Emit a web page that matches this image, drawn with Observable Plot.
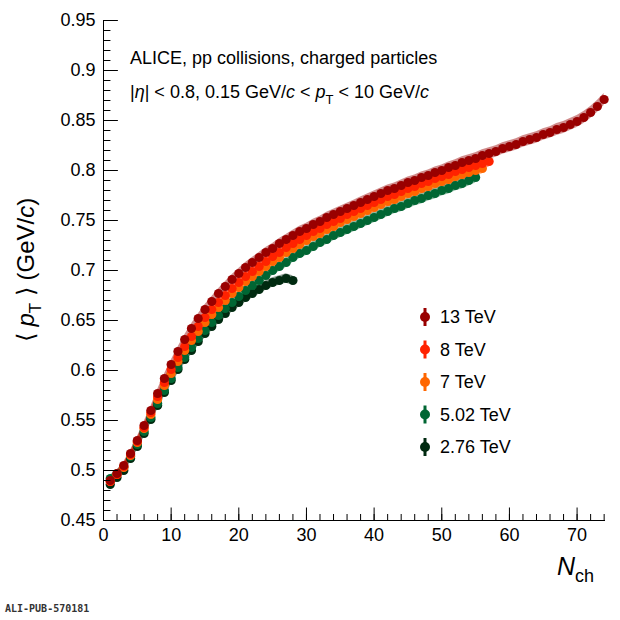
<!DOCTYPE html>
<html><head><meta charset="utf-8">
<script src="https://cdn.jsdelivr.net/npm/d3@7"></script>
<script src="https://cdn.jsdelivr.net/npm/@observablehq/plot@0.6"></script>
<style>body{margin:0;background:#fff;font-family:"Liberation Sans",Arial,sans-serif}</style>
</head><body><div id="c"></div>
<script>
const energies = ["13 TeV","8 TeV","7 TeV","5.02 TeV","2.76 TeV"];
const colors = ["#990000","#ff2200","#ff6600","#006633","#002a10"];
const v13 = [0.490,0.497,0.505,0.517,0.530,0.545,0.560,0.577,0.592,0.606,0.619,0.631,0.642,0.652,0.661,0.669,0.677,0.684,0.691,0.697,0.703,0.708,0.713,0.718,0.722,0.727,0.731,0.735,0.739,0.742,0.746,0.749,0.753,0.756,0.759,0.762,0.765,0.768,0.771,0.774,0.777,0.780,0.782,0.785,0.788,0.790,0.793,0.795,0.798,0.800,0.803,0.805,0.808,0.810,0.812,0.815,0.817,0.819,0.822,0.824,0.826,0.829,0.831,0.833,0.836,0.838,0.841,0.843,0.846,0.849,0.853,0.858,0.864,0.871];
const v8 = [0.489,0.496,0.504,0.516,0.529,0.543,0.558,0.574,0.588,0.601,0.613,0.624,0.634,0.644,0.653,0.661,0.668,0.675,0.682,0.688,0.694,0.699,0.704,0.709,0.714,0.718,0.723,0.727,0.731,0.735,0.739,0.742,0.746,0.749,0.752,0.756,0.759,0.762,0.765,0.768,0.771,0.774,0.776,0.779,0.782,0.784,0.787,0.789,0.792,0.794,0.796,0.799,0.801,0.803,0.805,0.807,0.809];
const v7 = [0.489,0.496,0.503,0.515,0.528,0.542,0.556,0.571,0.585,0.597,0.609,0.620,0.630,0.639,0.648,0.656,0.663,0.670,0.677,0.683,0.689,0.694,0.699,0.704,0.709,0.713,0.718,0.722,0.726,0.730,0.734,0.737,0.741,0.744,0.748,0.751,0.754,0.757,0.760,0.763,0.766,0.769,0.771,0.774,0.777,0.779,0.782,0.784,0.787,0.789,0.791,0.794,0.796,0.798,0.800,0.802];
const v502 = [0.492,0.497,0.503,0.514,0.526,0.539,0.553,0.567,0.580,0.592,0.603,0.613,0.623,0.632,0.640,0.648,0.655,0.662,0.668,0.674,0.680,0.685,0.690,0.695,0.700,0.704,0.708,0.713,0.717,0.720,0.724,0.728,0.731,0.735,0.738,0.741,0.744,0.747,0.750,0.753,0.756,0.759,0.762,0.764,0.767,0.770,0.772,0.775,0.777,0.780,0.782,0.785,0.787,0.790,0.793];
const v276 = [0.486,0.493,0.500,0.512,0.524,0.537,0.551,0.565,0.578,0.590,0.601,0.611,0.620,0.629,0.637,0.644,0.651,0.657,0.663,0.668,0.673,0.677,0.681,0.685,0.688,0.690,0.692,0.690];
const series = [v13,v8,v7,v502,v276];
const relSyst = 0.007;
const xTicks = [0,10,20,30,40,50,60,70];
const yTicks = [0.45,0.5,0.55,0.6,0.65,0.7,0.75,0.8,0.85,0.9,0.95];

const data = [];
series.forEach((arr,i)=>arr.forEach((v,j)=>data.push({e:energies[i],n:j+1,v,lo:v*(1-relSyst),hi:v*(1+relSyst)})));
const order = [...energies].reverse();
const drawData = order.flatMap(e=>data.filter(d=>d.e===e));

const color = {domain:energies, range:colors};
const plot = Plot.plot({
  width:620, height:620, marginLeft:103, marginRight:15, marginTop:20, marginBottom:100,
  style:{fontFamily:"Liberation Sans, Arial, sans-serif", fontSize:"18px", background:"#fff"},
  x:{domain:[0,74.2], label:null},
  y:{domain:[0.45,0.95], label:null},
  color,
  marks:[
    ...order.map(e=>Plot.areaY(data.filter(d=>d.e===e),{x:"n",y1:"lo",y2:"hi",fill:colors[energies.indexOf(e)],fillOpacity:0.45})),
    Plot.dot(drawData,{x:"n",y:"v",fill:"e",r:4.6}),
    Plot.axisX({ticks:xTicks, tickSize:0, tickPadding:8, fontSize:18}),
    Plot.ruleX(xTicks,{x:d=>d,y1:0.45,y2:0.4625,stroke:"#000"}),
    Plot.ruleX(d3.range(0,75,2),{x:d=>d,y1:0.45,y2:0.456,stroke:"#000"}),
    Plot.axisY({ticks:yTicks, tickSize:0, tickPadding:8, fontSize:18, tickFormat:d=>String(+d.toFixed(2))}),
    Plot.ruleY(yTicks,{y:d=>d,x1:0,x2:2.2,stroke:"#000"}),
    Plot.ruleY(d3.range(0.45,0.951,0.01),{y:d=>d,x1:0,x2:1.1,stroke:"#000"}),
    Plot.ruleX([0],{stroke:"#000"}),
    Plot.ruleY([0.45],{stroke:"#000"}),
  ]
});
const svg = d3.select(plot);
const T = ()=>svg.append("text").attr("text-anchor","start").attr("fill","#000");
T().attr("x",130).attr("y",64).attr("font-size",18).text("ALICE, pp collisions, charged particles");
T().attr("x",130).attr("y",98).attr("font-size",18).html('|<tspan font-style="italic">η</tspan>| &lt; 0.8, 0.15 GeV/<tspan font-style="italic">c</tspan> &lt; <tspan font-style="italic">p</tspan><tspan font-size="13" dy="6">T</tspan><tspan dy="-6"> &lt; 10 GeV/</tspan><tspan font-style="italic">c</tspan>');
energies.forEach((e,i)=>{
  const y = 317 + i*32.5;
  svg.append("line").attr("x1",425).attr("x2",425).attr("y1",y-9).attr("y2",y+9).attr("stroke",colors[i]).attr("stroke-width",3);
  svg.append("circle").attr("cx",425).attr("cy",y).attr("r",5).attr("fill",colors[i]);
  T().attr("x",440).attr("y",y+6).attr("font-size",18).text(e);
});
svg.append("text").attr("transform","translate(34,270) rotate(-90)").attr("text-anchor","middle").attr("font-size",24)
  .html('⟨ <tspan font-style="italic">p</tspan><tspan font-size="17" dy="7">T</tspan><tspan dy="-7"> ⟩ (GeV/</tspan><tspan font-style="italic">c</tspan>)');
T().attr("x",557).attr("y",575).attr("font-size",25).html('<tspan font-style="italic">N</tspan><tspan font-size="18" dy="7">ch</tspan>');
T().attr("x",5).attr("y",612).attr("font-size",10).attr("font-family","DejaVu Sans Mono").attr("font-weight","bold").attr("fill","#333").text("ALI-PUB-570181");
document.getElementById("c").appendChild(plot);
</script></body></html>
